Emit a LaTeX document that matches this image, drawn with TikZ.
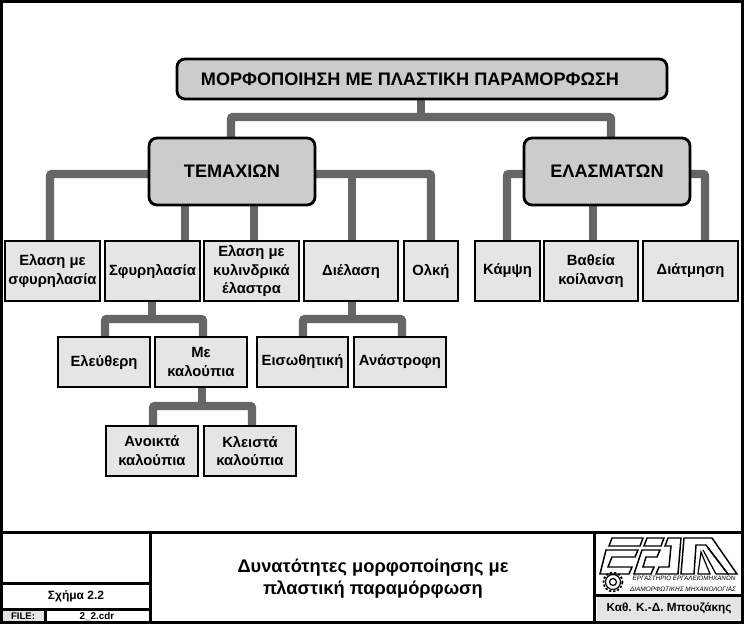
\documentclass[tikz,border=0pt]{standalone}
\usepackage{fontspec}
\setmainfont{Liberation Sans}
\usetikzlibrary{calc}
\definecolor{boxg}{gray}{0.90}
\definecolor{headg}{gray}{0.80}
\definecolor{connc}{gray}{0.40}
\tikzset{
  x=0.75pt,y=-0.75pt,
  frameline/.style={line width=2.25pt,black},
  conn/.style={line width=6.2pt,connc,rounded corners=1.5pt},
  base/.style={draw=black,line width=2.1pt,font=\bfseries,align=center,inner sep=0pt,outer sep=0pt,anchor=north west},
  leaf/.style={base,fill=boxg,font=\bfseries\fontsize{11.1}{14.2}\selectfont},
  head/.style={base,fill=headg,rounded corners=6pt,font=\bfseries\fontsize{13.6}{16}\selectfont},
  logoshape/.style={draw=black,line width=1.1pt,fill=white,line join=miter},
  tbtext/.style={font=\bfseries,align=center,inner sep=0pt}
}
\newcommand{\leafbox}[7][leaf]{\node[#1,minimum width=#5*0.75pt-#3*0.75pt,minimum height=#6*0.75pt-#4*0.75pt] (#2) at (#3,#4) {#7};}
\begin{document}
\begin{tikzpicture}
\useasboundingbox (0,0) rectangle (744,624);
\fill[white] (0,0) rectangle (744,624);
% connectors first
\coordinate (jt) at (421,117);
\coordinate (tdrop) at (231,138);
\coordinate (edrop) at (611,138);
\coordinate (c1) at (50,241);
\coordinate (c2) at (185,241);
\coordinate (c3) at (254,241);
\coordinate (c4) at (352,241);
\coordinate (c5) at (431,241);
\coordinate (t1) at (149,174);
\coordinate (t5) at (315,174);
\coordinate (e0) at (524,174);
\coordinate (e2) at (690,174);
\coordinate (d1) at (507,241);
\coordinate (d2) at (593,241);
\coordinate (d3) at (705,241);
\coordinate (s0) at (152,301);
\coordinate (s1) at (105,337);
\coordinate (s2) at (203,337);
\coordinate (k0) at (352,301);
\coordinate (k1) at (303,337);
\coordinate (k2) at (402,337);
\coordinate (m0) at (202,387);
\coordinate (m1) at (153,426);
\coordinate (m2) at (252,426);
\coordinate (p1) at (421,99);
\coordinate (p2) at (254,205);
\coordinate (p3) at (185,205);
\coordinate (p4) at (593,205);
\draw[conn] (tdrop) |- (jt) -| (edrop);
\draw[conn] (p1) -- (jt);
\draw[conn] (c1) |- (t1);
\draw[conn] (p3) -- (c2);
\draw[conn] (p2) -- (c3);
\draw[conn] (t5) -| (c5);
\draw[conn] (c4) -- ($(c4)+(0,-67)$);
\draw[conn] (d1) |- (e0);
\draw[conn] (e2) -| (d3);
\draw[conn] (p4) -- (d2);
\draw[conn] (s1) |- (s0 |- 0,319) -| (s2);
\draw[conn] (s0) -- (s0 |- 0,319);
\draw[conn] (k1) |- (k0 |- 0,319) -| (k2);
\draw[conn] (k0) -- (k0 |- 0,319);
\draw[conn] (m1) |- (m0 |- 0,406) -| (m2);
\draw[conn] (m0) -- (m0 |- 0,406);
% boxes
\leafbox[head]{top}{177}{59}{667}{99}{ΜΟΡΦΟΠΟΙΗΣΗ ΜΕ ΠΛΑΣΤΙΚΗ ΠΑΡΑΜΟΡΦΩΣΗ\hspace*{18pt}}
\leafbox[head]{tem}{149}{138}{315}{205}{ΤΕΜΑΧΙΩΝ}
\leafbox[head]{ela}{524}{138}{690}{205}{ΕΛΑΣΜΑΤΩΝ}
\leafbox{a1}{5}{241}{100}{301}{Ελαση με\\σφυρηλασία}
\leafbox{a2}{105}{241}{200}{301}{Σφυρηλασία}
\leafbox{a3}{204}{241}{299}{301}{Ελαση με\\κυλινδρικά\\έλαστρα}
\leafbox{a4}{304}{241}{398}{301}{Διέλαση}
\leafbox{a5}{404}{241}{458}{301}{Ολκή}
\leafbox{b1}{475}{241}{540}{301}{Κάμψη}
\leafbox{b2}{544}{241}{638}{301}{Βαθεία\\κοίλανση}
\leafbox{b3}{643}{241}{738}{301}{Διάτμηση}
\leafbox{f1}{58}{337}{150}{387}{Ελεύθερη}
\leafbox{f2}{155}{337}{247}{387}{Με\\καλούπια}
\leafbox{f3}{257}{337}{348}{387}{Εισωθητική}
\leafbox{f4}{354}{337}{446}{387}{Ανάστροφη}
\leafbox{g1}{106}{426}{198}{476}{Ανοικτά\\καλούπια}
\leafbox{g2}{204}{426}{296}{476}{Κλειστά\\καλούπια}
% frame and title block
\fill[boxg] (597,597) rectangle (741,620);
\fill[boxg] (3,610) rectangle (44,621);
\draw[frameline] (1.5,1.5) rectangle (742,622.5);
\draw[frameline] (0,533) -- (744,533);
\draw[frameline] (150,533) -- (150,624);
\draw[frameline] (594,533) -- (594,624);
\draw[frameline] (0,584) -- (150,584);
\draw[frameline] (0,609) -- (150,609);
\draw[frameline] (45,609) -- (45,624);
\draw[frameline] (594,596) -- (744,596);
\node[tbtext,font=\bfseries\fontsize{9}{11}\selectfont] (sx) at (76,596.5) {Σχήμα 2.2};
\node[tbtext,font=\bfseries\fontsize{7.2}{9}\selectfont] (fl) at (23,616.5) {FILE:};
\node[tbtext,font=\bfseries\fontsize{7.4}{9}\selectfont] (fn) at (97,616.5) {2\_2.cdr};
\node[tbtext,font=\bfseries\fontsize{13.7}{16.4}\selectfont] (ttl) at (373,579) {Δυνατότητες μορφοποίησης με\\πλαστική παραμόρφωση};
\node[tbtext,font=\bfseries\fontsize{8.85}{11}\selectfont] (au) at (669,608.5) {Καθ. Κ.-Δ. Μπουζάκης};
% logo
\filldraw[logoshape] (612,538) -- (643,538) -- (640,546) -- (609,546) -- cycle;
\filldraw[logoshape] (606,550) -- (638,550) -- (635,557) -- (612,557) -- (608,567) -- (632,567) -- (629,574) -- (600,574) -- cycle;
\filldraw[logoshape] (647,538) -- (664,538) -- (661,546) -- (644,546) -- cycle;
\filldraw[logoshape] (642,550) -- (660,550) -- (657,557) -- (646,557) -- (643,567) -- (654,567) -- (651,574) -- (634,574) -- cycle;
\filldraw[logoshape] (668,538) -- (681,538) -- (678,574) -- (656,574) -- (659,567) -- (669,567) -- (671,546) -- (665,546) -- cycle;
\filldraw[logoshape] (684,538) -- (712,538) -- (737,574) -- (728,574) -- (706,545) -- (696,545) -- (694,574) -- (681,574) -- cycle;
\draw[black,line width=0.9pt] (701,552) -- (698,574) -- (710,574) -- cycle;
\draw[black,line width=0.9pt] (708,548) -- (728,574) -- (716,574) -- (703,550);
\draw[black,line width=1.3pt,dash pattern=on 1.7pt off 1.4pt] (613,582) circle (9.5);
\draw[black,line width=0.9pt,fill=white] (613,582) circle (7.5);
\draw[black,line width=0.9pt] (613,582) circle (3.5);
\node[tbtext,font=\itshape\fontsize{4.7}{6}\selectfont] (l1) at (684,578.5) {ΕΡΓΑΣΤΗΡΙΟ ΕΡΓΑΛΕΙΟΜΗΧΑΝΩΝ};
\node[tbtext,font=\itshape\fontsize{4.8}{6}\selectfont] (l2) at (683,589) {ΔΙΑΜΟΡΦΩΤΙΚΗΣ ΜΗΧΑΝΟΛΟΓΙΑΣ};
\end{tikzpicture}
\end{document}
